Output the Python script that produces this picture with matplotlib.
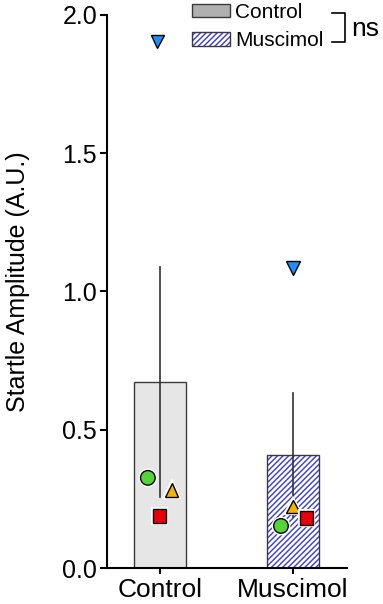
import matplotlib
matplotlib.use("Agg")
import matplotlib.pyplot as plt
import matplotlib.patches as mpatches
from matplotlib.legend_handler import HandlerTuple
import matplotlib.patheffects as pe
import numpy as np

plt.rcParams['font.family'] = ['Liberation Sans', 'DejaVu Sans']

groups = ["Control", "Muscimol"]
means = [0.673, 0.409]
errors = [0.415, 0.224]

# individual animals: (marker, color, control value, muscimol value)
animal_markers = ["v", "o", "^", "s"]
animal_colors = ["#1e8fff", "#55d43a", "#f5b400", "#e8000b"]
control_vals = [1.905, 0.326, 0.282, 0.188]
muscimol_vals = [1.085, 0.152, 0.221, 0.181]
control_jitter = [-0.02, -0.09, 0.09, 0.0]
muscimol_jitter = [0.0, -0.09, 0.0, 0.1]
marker_sizes = [9.5, 10.5, 9.5, 9.5]

fig = plt.figure(figsize=(3.83, 6.04), dpi=100)
ax = fig.add_axes([0.279, 0.0596, 0.627, 0.9156])

x = np.arange(len(groups))
w = 0.39
# Control bar
ax.bar(x[0], means[0], width=w, color="#e6e6e6", edgecolor="#3a3a3a", linewidth=1, zorder=1)
# Muscimol bar: hatch then border
plt.rcParams['hatch.linewidth'] = 1.0
ax.bar(x[1], means[1], width=w, color="white", edgecolor="#3a3ad8", hatch="//////", linewidth=0, zorder=1)
ax.bar(x[1], means[1], width=w, color="none", edgecolor="#3a3a3a", linewidth=1, zorder=1.1)

# Error bars (lines through bar)
for xi, m, e in zip(x, means, errors):
    ax.plot([xi, xi], [m - e, m + e], color="#333333", linewidth=1.2, zorder=2)

for i in range(4):
    for xi, vals, jit in ((x[0], control_vals, control_jitter), (x[1], muscimol_vals, muscimol_jitter)):
        ax.plot(xi + jit[i], vals[i], marker=animal_markers[i], color=animal_colors[i],
                markeredgecolor="black", markeredgewidth=1, markersize=marker_sizes[i],
                linestyle="none", zorder=3,
                path_effects=[pe.Stroke(linewidth=3, foreground="white"), pe.Normal()])

ax.set_xlim(-0.398, 1.406)
ax.set_ylim(0, 2.0)
ax.set_yticks([0, 0.5, 1.0, 1.5, 2.0])
ax.set_yticklabels(["0.0", "0.5", "1.0", "1.5", "2.0"], fontsize=18)
ax.set_xticks(x)
ax.set_xticklabels(groups, fontsize=19)
ax.tick_params(axis='y', length=5, width=1.5, direction='out', pad=2)
ax.tick_params(axis='x', length=4, width=1.5, direction='out', pad=3)
for s in ["top", "right"]:
    ax.spines[s].set_visible(False)
for s in ["left", "bottom"]:
    ax.spines[s].set_linewidth(1.5)
ax.set_ylabel("Startle Amplitude (A.U.)", fontsize=18)
ax.yaxis.set_label_coords(30/383, 1 - 282/604, transform=fig.transFigure)

# legend
h1 = mpatches.Patch(facecolor="#b0b0b0", edgecolor="#3a3a3a", linewidth=1)
h2a = mpatches.Patch(facecolor="white", edgecolor="#3a3ad8", hatch="//////", linewidth=0)
h2b = mpatches.Patch(facecolor="none", edgecolor="#3a3a3a", linewidth=1)
leg = fig.legend([h1, (h2a, h2b)], groups, handler_map={tuple: HandlerTuple(ndivide=1, pad=0)},
                 loc="upper left", bbox_to_anchor=(192/383, 1 - 3/604),
                 bbox_transform=fig.transFigure, frameon=False, fontsize=15,
                 handlelength=1.83, handleheight=0.63, handletextpad=0.25, labelspacing=0.45,
                 borderaxespad=0, borderpad=0)

# ns bracket
fig.lines.append(plt.Line2D([332/383, 345/383, 345/383, 332/383],
                            [1 - 13/604, 1 - 13/604, 1 - 42/604, 1 - 42/604],
                            color="black", linewidth=1.2, transform=fig.transFigure))
fig.text(351/383, 1 - 29/604, "ns", fontsize=19, va="center", ha="left")

fig.savefig("out.png", dpi=100)
